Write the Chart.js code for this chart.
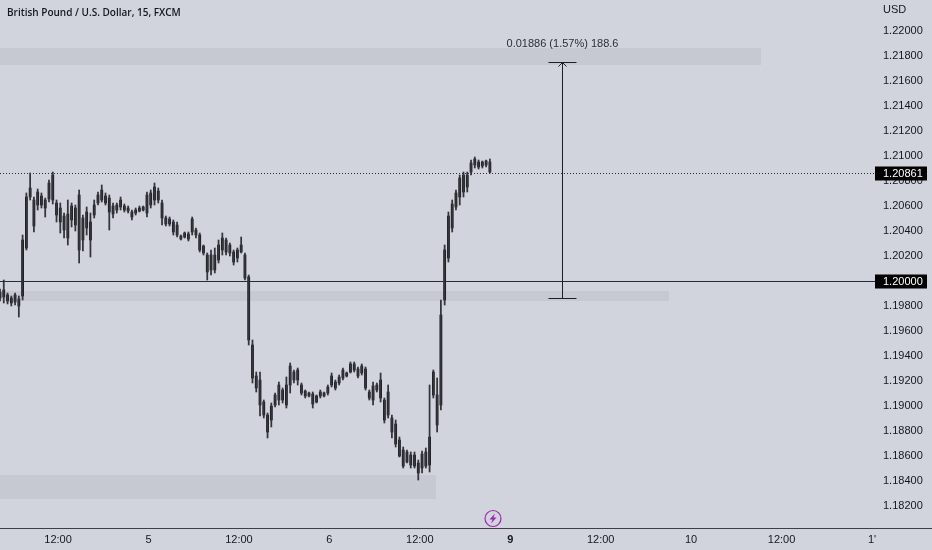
<!DOCTYPE html>
<html>
<head>
<meta charset="utf-8">
<style>
  html, body { margin: 0; padding: 0; background: #d1d4dc; overflow: hidden; }
  canvas { display: block; }
</style>
<script src="https://cdn.jsdelivr.net/npm/chart.js@4/dist/chart.umd.min.js"></script>
</head>
<body>
<canvas id="chart" width="932" height="550"></canvas>
<script>
const title = "British Pound / U.S. Dollar, 15, FXCM";
const currency = "USD";

// hours from midnight of the 5th, one candle read every half hour of axis
const firstHour = -19.7;
const hourStep = 0.5;

const highs = [1.19936,1.20008,1.19904,1.19880,1.19904,1.19880,1.20368,1.20704,1.20864,1.20672,1.20736,1.20704,1.20664,1.20808,1.20872,1.20648,1.20624,1.20544,1.20648,1.20624,1.20608,1.20728,1.20528,1.20592,1.20544,1.20648,1.20712,1.20768,1.20704,1.20688,1.20624,1.20624,1.20672,1.20616,1.20600,1.20568,1.20584,1.20600,1.20600,1.20712,1.20728,1.20784,1.20744,1.20648,1.20520,1.20512,1.20488,1.20472,1.20368,1.20392,1.20392,1.20512,1.20424,1.20384,1.20288,1.20224,1.20248,1.20264,1.20328,1.20384,1.20344,1.20304,1.20248,1.20264,1.20352,1.20224,1.20048,1.19528,1.19272,1.19272,1.19048,1.18944,1.19024,1.19104,1.19192,1.19144,1.19232,1.19344,1.19288,1.19304,1.19184,1.19128,1.19112,1.19112,1.19088,1.19128,1.19112,1.19168,1.19264,1.19208,1.19248,1.19304,1.19272,1.19352,1.19352,1.19312,1.19336,1.19312,1.19128,1.19192,1.19184,1.19264,1.19064,1.19168,1.18928,1.18888,1.18752,1.18672,1.18648,1.18632,1.18632,1.18568,1.18640,1.18664,1.19168,1.19288,1.19224,1.19848,1.20288,1.20552,1.20648,1.20728,1.20848,1.20872,1.20872,1.20968,1.20992,1.20968,1.20960,1.20968,1.20976];
const lows = [1.19840,1.19824,1.19816,1.19800,1.19808,1.19712,1.19848,1.20248,1.20648,1.20392,1.20568,1.20584,1.20512,1.20632,1.20616,1.20472,1.20384,1.20344,1.20288,1.20432,1.20400,1.20144,1.20240,1.20368,1.20192,1.20504,1.20608,1.20632,1.20608,1.20408,1.20504,1.20544,1.20568,1.20552,1.20544,1.20488,1.20528,1.20552,1.20560,1.20512,1.20584,1.20608,1.20624,1.20448,1.20440,1.20440,1.20368,1.20352,1.20328,1.20344,1.20320,1.20368,1.20344,1.20232,1.20208,1.20008,1.20048,1.20064,1.20144,1.20208,1.20208,1.20200,1.20128,1.20152,1.20224,1.20008,1.19488,1.19184,1.19112,1.18920,1.18904,1.18744,1.18832,1.18992,1.19008,1.19024,1.18984,1.19104,1.19184,1.19168,1.19088,1.19064,1.19072,1.18984,1.19024,1.19064,1.19072,1.19088,1.19152,1.19128,1.19168,1.19208,1.19232,1.19264,1.19272,1.19224,1.19248,1.19128,1.19048,1.19008,1.19112,1.19032,1.18864,1.18904,1.18744,1.18672,1.18592,1.18504,1.18544,1.18504,1.18504,1.18408,1.18464,1.18504,1.18472,1.19064,1.18792,1.18968,1.19808,1.20152,1.20392,1.20568,1.20608,1.20672,1.20712,1.20848,1.20904,1.20896,1.20904,1.20912,1.20864];
const bodyTops = [1.19912,1.19928,1.19888,1.19864,1.19888,1.19856,1.20328,1.20672,1.20744,1.20648,1.20712,1.20680,1.20648,1.20784,1.20848,1.20624,1.20584,1.20520,1.20536,1.20600,1.20584,1.20688,1.20504,1.20552,1.20472,1.20608,1.20688,1.20728,1.20680,1.20664,1.20600,1.20608,1.20648,1.20600,1.20584,1.20552,1.20568,1.20584,1.20592,1.20688,1.20704,1.20752,1.20720,1.20624,1.20504,1.20496,1.20472,1.20448,1.20360,1.20384,1.20376,1.20496,1.20408,1.20368,1.20280,1.20208,1.20208,1.20208,1.20288,1.20344,1.20328,1.20288,1.20232,1.20248,1.20288,1.20208,1.20032,1.19488,1.19240,1.19208,1.19032,1.18928,1.19000,1.19088,1.19168,1.19128,1.19168,1.19320,1.19272,1.19288,1.19168,1.19120,1.19104,1.19096,1.19080,1.19112,1.19104,1.19152,1.19240,1.19192,1.19232,1.19288,1.19264,1.19336,1.19336,1.19296,1.19320,1.19296,1.19112,1.19160,1.19168,1.19208,1.19048,1.19112,1.18904,1.18856,1.18728,1.18648,1.18632,1.18608,1.18608,1.18544,1.18616,1.18632,1.18752,1.19272,1.19088,1.19728,1.20248,1.20520,1.20616,1.20704,1.20824,1.20848,1.20848,1.20944,1.20976,1.20952,1.20952,1.20960,1.20952];
const bodyBottoms = [1.19864,1.19872,1.19840,1.19824,1.19832,1.19800,1.19880,1.20264,1.20672,1.20440,1.20608,1.20608,1.20584,1.20656,1.20648,1.20528,1.20472,1.20408,1.20344,1.20488,1.20448,1.20248,1.20328,1.20424,1.20328,1.20528,1.20624,1.20648,1.20624,1.20552,1.20536,1.20568,1.20592,1.20568,1.20560,1.20512,1.20544,1.20560,1.20568,1.20544,1.20608,1.20648,1.20648,1.20504,1.20456,1.20456,1.20392,1.20368,1.20336,1.20352,1.20336,1.20392,1.20368,1.20248,1.20224,1.20072,1.20088,1.20088,1.20168,1.20248,1.20232,1.20224,1.20152,1.20184,1.20232,1.20024,1.19528,1.19224,1.19144,1.19008,1.18928,1.18792,1.18888,1.19008,1.19048,1.19048,1.19008,1.19168,1.19208,1.19208,1.19104,1.19080,1.19080,1.19016,1.19032,1.19080,1.19080,1.19104,1.19168,1.19144,1.19184,1.19224,1.19240,1.19272,1.19288,1.19240,1.19264,1.19144,1.19064,1.19048,1.19128,1.19064,1.18888,1.18928,1.18792,1.18696,1.18600,1.18520,1.18552,1.18528,1.18520,1.18464,1.18504,1.18520,1.18528,1.19088,1.18848,1.19008,1.19848,1.20184,1.20424,1.20592,1.20672,1.20712,1.20752,1.20872,1.20928,1.20912,1.20920,1.20928,1.20872];

const priceTicks = [1.182,1.184,1.186,1.188,1.19,1.192,1.194,1.196,1.198,1.2,1.202,1.204,1.206,1.208,1.21,1.212,1.214,1.216,1.218,1.22];
const timeTicks = [-12,0,12,24,36,48,60,72,84,96];
const timeLabels = ["12:00","5","12:00","6","12:00","9","12:00","10","12:00","1'"];

// grey supply / demand zones
const zoneTops = [1.21864,1.1992,1.18448];
const zoneBottoms = [1.21728,1.1984,1.18256];
const zoneEnds = [81.27,69.06,38.15];

const lastPrice = 1.20861;
const levelPrice = 1.2;
const measureHour = 54.86;
const measureFrom = 1.19864;
const measureTo = 1.2175;
const measureText = "0.01886 (1.57%) 188.6";

const ZONE = "#c6c9d1";
const INK = "#131722";
const FONT = '"Liberation Sans", Arial, sans-serif';

const hours = highs.map((_, i) => firstHour + i * hourStep);
const wickData = highs.map((h, i) => ({ x: hours[i], y: [lows[i], h] }));
const bodyData = highs.map((_, i) => ({ x: hours[i], y: [bodyBottoms[i], bodyTops[i]] }));

function noAxisPadding(scale) {
  scale.paddingTop = 0;
  scale.paddingBottom = 0;
  scale.paddingLeft = 0;
  scale.paddingRight = 0;
}

const backdrop = {
  id: "backdrop",
  beforeDatasetsDraw(chart) {
    const { ctx, chartArea, scales: { x, y } } = chart;
    ctx.save();
    ctx.fillStyle = ZONE;
    zoneTops.forEach((top, i) => {
      const y0 = y.getPixelForValue(top);
      const y1 = y.getPixelForValue(zoneBottoms[i]);
      ctx.fillRect(chartArea.left, y0, x.getPixelForValue(zoneEnds[i]) - chartArea.left, y1 - y0);
    });
    ctx.restore();
  }
};

const overlay = {
  id: "overlay",
  afterDraw(chart) {
    const { ctx, chartArea, scales: { x, y }, width } = chart;
    ctx.save();

    // dotted last price line
    const lastY = Math.round(y.getPixelForValue(lastPrice)) + 0.5;
    ctx.strokeStyle = "#2a2e39";
    ctx.lineWidth = 1;
    ctx.setLineDash([1, 2]);
    ctx.beginPath();
    ctx.moveTo(chartArea.left, lastY);
    ctx.lineTo(chartArea.right, lastY);
    ctx.stroke();
    ctx.setLineDash([]);

    // horizontal level
    const levelY = Math.round(y.getPixelForValue(levelPrice)) + 0.5;
    ctx.strokeStyle = "#2a2c33";
    ctx.lineWidth = 1.2;
    ctx.beginPath();
    ctx.moveTo(chartArea.left, levelY);
    ctx.lineTo(chartArea.right, levelY);
    ctx.stroke();

    // measure tool
    const mx = Math.round(x.getPixelForValue(measureHour)) + 0.5;
    const topY = Math.round(y.getPixelForValue(measureTo)) + 0.5;
    const botY = Math.round(y.getPixelForValue(measureFrom)) + 0.5;
    ctx.strokeStyle = "#1c1f28";
    ctx.lineWidth = 1;
    ctx.beginPath();
    ctx.moveTo(mx, topY);
    ctx.lineTo(mx, botY);
    ctx.moveTo(mx - 14, topY);
    ctx.lineTo(mx + 14, topY);
    ctx.moveTo(mx - 14, botY);
    ctx.lineTo(mx + 14, botY);
    ctx.moveTo(mx - 4, topY + 4);
    ctx.lineTo(mx, topY);
    ctx.lineTo(mx + 4, topY + 4);
    ctx.stroke();
    ctx.fillStyle = "#2a2e39";
    ctx.font = "11px " + FONT;
    ctx.textAlign = "center";
    ctx.textBaseline = "middle";
    ctx.fillText(measureText, mx, 44);

    // price labels
    [[lastPrice, lastY], [levelPrice, levelY]].forEach(([price, py]) => {
      ctx.fillStyle = "#000";
      ctx.fillRect(chartArea.right, py - 7, 52, 14);
      ctx.fillStyle = "#fff";
      ctx.textAlign = "left";
      ctx.fillText(price.toFixed(5), chartArea.right + 8, py + 0.5);
    });

    // bottom axis line, runs under the price scale too
    ctx.strokeStyle = "#3c3f48";
    ctx.lineWidth = 1.2;
    ctx.beginPath();
    ctx.moveTo(0, chartArea.bottom + 0.5);
    ctx.lineTo(width, chartArea.bottom + 0.5);
    ctx.stroke();

    // header text
    ctx.fillStyle = INK;
    ctx.font = '600 10px "Open Sans", sans-serif';
    ctx.textAlign = "left";
    ctx.fillText(title, 7, 13);
    ctx.font = "500 11px " + FONT;
    ctx.fillText(currency, chartArea.right + 8, 10);

    // news marker
    const cx = 493, cy = 518.5;
    ctx.strokeStyle = "#9c27b0";
    ctx.lineWidth = 1.2;
    ctx.beginPath();
    ctx.arc(cx, cy, 8, 0, Math.PI * 2);
    ctx.stroke();
    ctx.fillStyle = "#9c27b0";
    ctx.beginPath();
    ctx.moveTo(cx + 2, cy - 5);
    ctx.lineTo(cx - 3.5, cy + 1);
    ctx.lineTo(cx - 0.5, cy + 1);
    ctx.lineTo(cx - 2, cy + 5);
    ctx.lineTo(cx + 3.5, cy - 1);
    ctx.lineTo(cx + 0.5, cy - 1);
    ctx.closePath();
    ctx.fill();

    ctx.restore();
  }
};

new Chart(document.getElementById("chart"), {
  type: "bar",
  data: {
    datasets: [
      { label: "wick", data: wickData, backgroundColor: "#33353b", barThickness: 1.1, grouped: false },
      { label: "body", data: bodyData, backgroundColor: "#101114", barThickness: 2.1, grouped: false }
    ]
  },
  options: {
    responsive: false,
    animation: false,
    layout: { padding: 0 },
    plugins: { legend: { display: false }, tooltip: { enabled: false } },
    scales: {
      x: {
        type: "linear",
        offset: false,
        min: firstHour,
        max: 96.4,
        grid: { display: false, drawTicks: false },
        border: { display: false },
        afterBuildTicks: (scale) => { scale.ticks = timeTicks.map((value) => ({ value })); },
        afterFit: (scale) => { scale.height = 22; noAxisPadding(scale); },
        ticks: {
          autoSkip: false,
          maxRotation: 0,
          padding: 5,
          color: INK,
          font: (c) => ({ family: FONT, size: 11, weight: c.tick && c.tick.label === "9" ? "bold" : "normal" }),
          callback: (value, i) => timeLabels[i]
        }
      },
      y: {
        position: "right",
        min: 1.18024,
        max: 1.22248,
        grid: { display: false, drawTicks: false },
        border: { display: false },
        afterBuildTicks: (scale) => { scale.ticks = priceTicks.map((value) => ({ value })); },
        afterFit: (scale) => { scale.width = 57; noAxisPadding(scale); },
        ticks: {
          autoSkip: false,
          padding: 8,
          color: INK,
          font: { family: FONT, size: 11 },
          callback: (value) => value.toFixed(5)
        }
      }
    }
  },
  plugins: [backdrop, overlay]
});
</script>
</body>
</html>
